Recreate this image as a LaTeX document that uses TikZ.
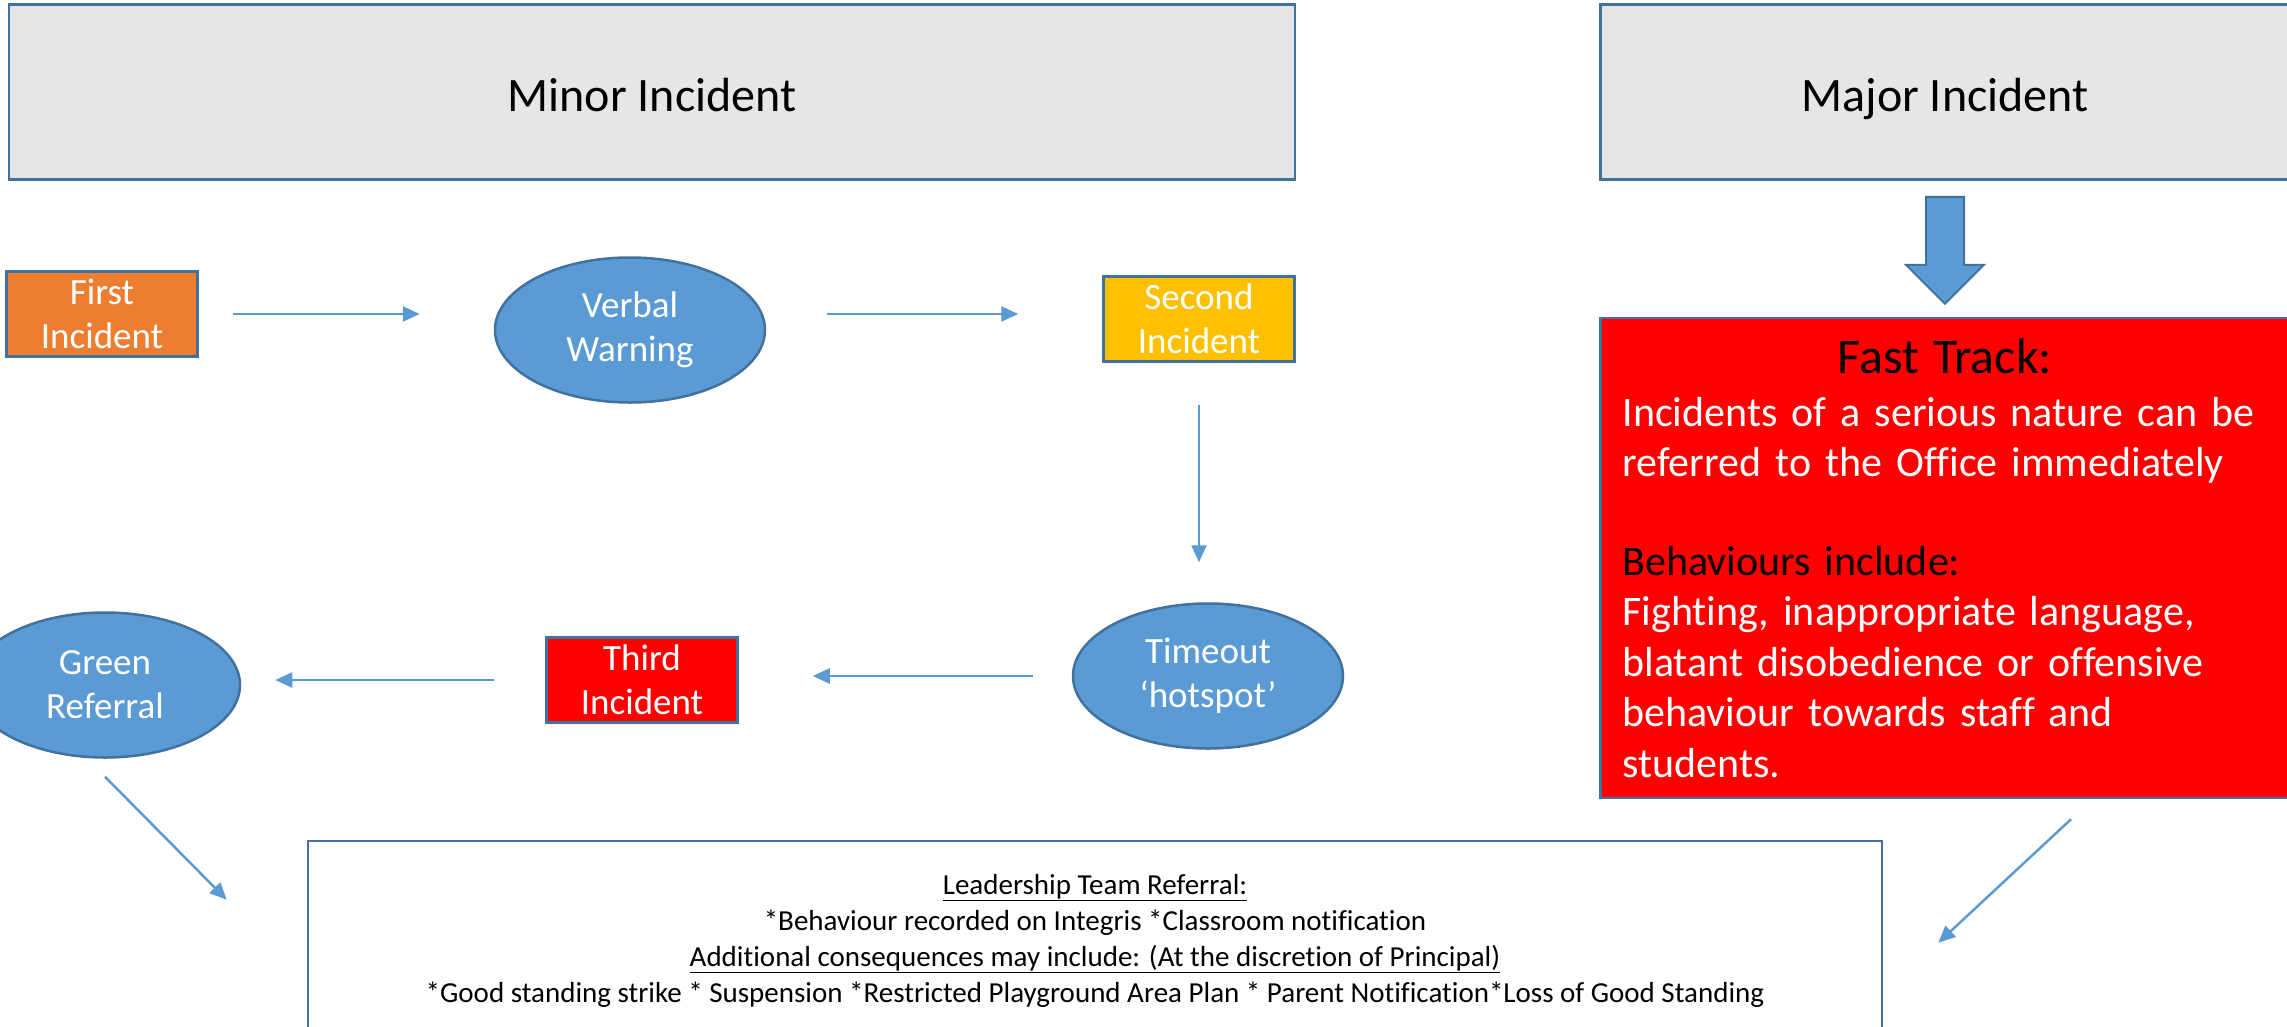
\documentclass[tikz,border=0pt]{standalone}
\usepackage{fontspec}
\setmainfont{Carlito}[Ligatures={TeX,NoCommon}]
\usetikzlibrary{positioning,shapes.geometric,arrows.meta}
\definecolor{ppblue}{RGB}{91,155,213}
\definecolor{ppedge}{RGB}{65,113,156}
\definecolor{pporange}{RGB}{237,125,49}
\definecolor{ppyellow}{RGB}{255,192,0}
\definecolor{ppred}{RGB}{255,0,0}
\definecolor{ppgrey}{RGB}{230,230,230}

\begin{document}
\begin{tikzpicture}[x=1pt,y=-1pt,
    incbox/.style={draw=ppedge,line width=2.5pt,fill=#1,text=white,align=center,
                   minimum width=191pt,minimum height=85pt,inner sep=0,font=\fontsize{37}{44}\selectfont},
    incbox/.default=pporange,
    bubble/.style={ellipse,draw=ppedge,line width=2.5pt,fill=ppblue,text=white,align=center,
                   minimum width=270pt,minimum height=145pt,inner sep=0,font=\fontsize{37}{44}\selectfont},
    headbox/.style={draw=ppedge,line width=2.5pt,fill=ppgrey,minimum height=175pt,
                    text height=39pt,text depth=0pt,font=\fontsize{48}{58}\selectfont},
    flow/.style={draw=ppblue,line width=2.5pt,-{Triangle[length=17pt,width=15pt]}},
    bigarrow/.style={draw=ppedge,line width=2pt,fill=ppblue}
    ]
    \useasboundingbox (0,0) rectangle (2287,1026);
    \clip (0,0) rectangle (2287,1026);
    %%% Koppen
    \node[headbox,minimum width=1286pt] (minor) at (652,92) {Minor Incident};
    \node[headbox,minimum width=689pt,right of=minor,node distance=1293pt] (major) {Major Incident};
    %%% Kleine incidenten
    \node[incbox] (first) at (102,314) {First\\Incident};
    \node[bubble,right of=first,node distance=528pt,yshift=-16pt] (verbal) {Verbal\\Warning};
    \node[incbox=ppyellow,right of=verbal,node distance=569pt,yshift=11pt] (second) {Second\\Incident};
    \node[bubble,below of=second,node distance=357pt,xshift=9pt] (timeout) {Timeout\\‘hotspot’};
    \node[incbox=ppred,left of=timeout,node distance=566pt,yshift=-4pt] (third) {Third\\Incident};
    \node[bubble,left of=third,node distance=537pt,yshift=-5pt] (green) {Green\\Referral};
    %%% Fast track
    \node[draw=ppedge,line width=2.5pt,fill=ppred,text=white,below of=major,node distance=466pt,
          minimum width=689pt,minimum height=480pt,inner sep=0,text width=645pt,align=left,
          font=\fontsize{42}{50.5}\selectfont] (fast)
        {\makebox[645pt]{\color{black}\fontsize{50}{60}\selectfont Fast Track:}\\[2.5pt]
         Incidents of a serious nature can be\\
         referred to the Office immediately\\[48pt]
         {\color{black}Behaviours include:}\\
         Fighting, inappropriate language,\\
         blatant disobedience or offensive\\
         behaviour towards staff and\\
         students.};
    \draw[bigarrow] ([xshift=-19pt,yshift=-16pt]major.south) -- ++(38,0) -- ++(0,68) -- ++(20,0)
        -- ++(-39,39) -- ++(-39,-39) -- ++(20,0) -- cycle;
    %%% Leiding
    \node[draw=ppedge,line width=2.5pt,fill=white,minimum width=1574pt,minimum height=200pt,
          align=center,font=\fontsize{29}{36}\selectfont] (leader) at (1095,941)
        {\underline{Leadership Team Referral:}\\
         *Behaviour recorded on Integris *Classroom notification\\
         \underline{Additional consequences may include: (At the discretion of Principal)}\\
         *Good standing strike * Suspension *Restricted Playground Area Plan * Parent Notification*Loss of Good Standing};
    \coordinate (grn_out) at ([yshift=-18pt]green.south);
    \coordinate (grn_in) at ([xshift=-80pt,yshift=-60pt]leader.north west);
    \coordinate (ft_out) at ([xshift=126pt,yshift=-20pt]fast.south);
    \coordinate (ft_in) at ([xshift=55pt,yshift=-103pt]leader.north east);
    \path[every edge/.style={flow}]
        (first.east) edge[shorten <=34pt,shorten >=74pt] (first.east -| verbal.west)
        (verbal.east |- first.east) edge[shorten <=61pt,shorten >=84pt] (second.west |- first.east)
        (second.south) edge[shorten <=42pt,shorten >=40pt] (second.south |- timeout.north)
        (timeout.west) edge[shorten <=39pt,shorten >=74pt] (timeout.west -| third.east)
        (third.west) edge[shorten <=51pt,shorten >=34pt] (third.west -| green.east)
        %%% naar leiding
        (grn_out) edge (grn_in)
        (ft_out) edge (ft_in)
        ;
\end{tikzpicture}
\end{document}
